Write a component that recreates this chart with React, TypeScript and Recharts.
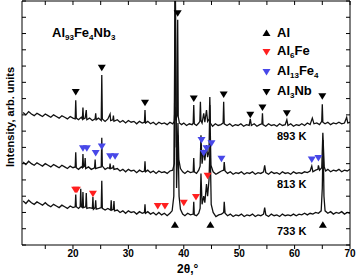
import React from "react";
import { ComposedChart, Line, Scatter, XAxis, YAxis } from "recharts";

// 2θ (deg) / intensity (arb. units) pairs
const TRACE_893: [number, number][] = [
  [11, 163], [11.5, 160], [12, 164], [12.5, 161], [13, 159], [13.5, 162], [14, 160], [14.5, 158],
  [15, 161], [15.5, 159], [16, 157], [16.5, 160], [17, 158], [17.5, 156], [18, 159], [18.5, 157],
  [19, 155], [19.5, 158], [20, 156], [20.4, 155], [20.5, 178], [20.6, 156], [21, 154], [21.5, 157],
  [21.7, 155], [21.8, 169], [21.9, 155], [22.2, 156], [22.4, 166], [22.5, 154], [23, 156], [23.5, 153],
  [24, 155], [24.1, 162], [24.2, 154], [24.6, 156], [25.1, 153], [25.2, 209], [25.3, 155], [25.8, 152],
  [26.3, 155], [26.7, 161], [26.8, 153], [27.2, 154], [27.3, 159], [27.4, 152], [28, 154], [28.5, 151],
  [29, 153], [29.5, 150], [30, 153], [30.5, 151], [31, 152], [31.5, 149], [32, 152], [32.5, 150],
  [32.9, 151], [33.0, 166], [33.1, 150], [33.5, 152], [34, 149], [34.5, 151], [35, 148], [35.5, 151],
  [36, 149], [36.5, 150], [37, 148], [37.5, 151], [38, 149], [38.3, 152], [38.4, 170], [38.55, 153],
  [38.8, 160], [38.9, 277], [39.0, 158], [39.2, 150], [39.6, 148], [40, 150], [40.5, 147], [41, 149],
  [41.5, 148], [41.7, 150], [41.8, 172], [41.9, 149], [42.3, 147], [42.7, 150], [42.9, 152], [43.0, 176],
  [43.1, 153], [43.3, 150], [43.6, 162], [43.8, 151], [44.1, 166], [44.3, 152], [44.6, 155], [44.7, 182],
  [44.8, 150], [45.2, 146], [45.7, 149], [46.2, 147], [46.7, 148], [47.1, 150], [47.2, 176], [47.3, 149],
  [47.8, 147], [48.3, 149], [48.8, 146], [49.3, 148], [49.8, 147], [50.3, 149], [50.8, 146], [51.3, 148],
  [51.8, 147], [52.0, 155], [52.2, 147], [52.7, 149], [53.2, 146], [53.7, 148], [54.1, 149], [54.2, 162],
  [54.3, 148], [54.8, 146], [55.3, 149], [55.8, 147], [56.3, 148], [56.8, 146], [57.3, 149], [57.8, 147],
  [58.3, 148], [58.6, 154], [58.8, 147], [59.3, 149], [59.8, 146], [60.3, 148], [60.8, 147], [61.3, 149],
  [61.8, 147], [62.3, 150], [62.8, 148], [63.2, 156], [63.5, 149], [64, 150], [64.5, 148], [64.9, 152],
  [65.0, 173], [65.1, 151], [65.5, 149], [66, 151], [66.5, 148], [67, 150], [67.5, 149], [68, 151],
  [68.5, 149], [69, 150], [69.4, 157], [69.6, 150], [70, 151],
];

const TRACE_813: [number, number][] = [
  [11, 102], [11.5, 99], [12, 103], [12.5, 100], [13, 98], [13.5, 101], [14, 99], [14.5, 97],
  [15, 100], [15.5, 98], [16, 96], [16.5, 99], [17, 97], [17.5, 95], [18, 98], [18.5, 96],
  [19, 94], [19.5, 97], [20, 95], [20.4, 96], [20.5, 114], [20.6, 95], [21, 93], [21.5, 96],
  [21.7, 95], [21.8, 112], [21.9, 96], [22.1, 97], [22.2, 107], [22.3, 94], [22.8, 96], [23.3, 93],
  [23.9, 95], [24.0, 105], [24.1, 94], [24.6, 95], [25.1, 96], [25.2, 132], [25.3, 97], [25.8, 93],
  [26.3, 95], [26.6, 94], [26.7, 100], [26.8, 94], [27.2, 95], [27.3, 98], [27.4, 93], [28, 94],
  [28.5, 91], [29, 93], [29.5, 90], [30, 93], [30.5, 91], [31, 92], [31.5, 89], [32, 92],
  [32.5, 90], [32.9, 91], [33.0, 103], [33.1, 90], [33.5, 92], [34, 89], [34.5, 91], [35, 88],
  [35.5, 91], [36, 89], [36.5, 90], [37, 88], [37.5, 91], [38, 92], [38.3, 100], [38.45, 340],
  [38.65, 120], [38.85, 125], [38.95, 150], [39.1, 105], [39.4, 94], [39.8, 90], [40.2, 88], [40.7, 91],
  [41.2, 89], [41.7, 90], [41.8, 107], [41.9, 90], [42.3, 88], [42.7, 92], [42.95, 97], [43.1, 135],
  [43.3, 100], [43.6, 117], [43.8, 104], [44.1, 123], [44.3, 108], [44.55, 115], [44.7, 172], [44.9, 98],
  [45.3, 90], [45.8, 87], [46.3, 89], [46.8, 91], [47.2, 92], [47.3, 102], [47.45, 91], [47.9, 88],
  [48.4, 90], [48.9, 87], [49.4, 89], [49.9, 88], [50.4, 90], [50.9, 87], [51.4, 89], [51.9, 88],
  [52.4, 90], [52.9, 87], [53.4, 89], [53.9, 88], [54.4, 90], [54.6, 98], [54.8, 89], [55.3, 87],
  [55.8, 90], [56.3, 88], [56.8, 89], [57.3, 87], [57.8, 90], [58.3, 88], [58.8, 89], [59.3, 87],
  [59.8, 90], [60.3, 88], [60.8, 89], [61.3, 88], [61.8, 90], [62.3, 89], [62.8, 91], [63.1, 97],
  [63.3, 90], [63.8, 92], [64.2, 93], [64.3, 98], [64.5, 92], [64.9, 95], [65.1, 138], [65.35, 96],
  [65.6, 91], [66, 93], [66.5, 90], [67, 92], [67.5, 91], [68, 93], [68.5, 90], [69, 92],
  [69.5, 91], [70, 93],
];

const TRACE_733: [number, number][] = [
  [11, 54], [11.5, 51], [12, 55], [12.5, 52], [13, 50], [13.5, 53], [14, 51], [14.5, 49],
  [15, 52], [15.5, 49], [16, 47], [16.5, 50], [17, 48], [17.5, 46], [18, 49], [18.5, 47],
  [19, 45], [19.5, 48], [20, 46], [20.4, 47], [20.5, 62], [20.6, 47], [21.0, 45], [21.3, 47],
  [21.4, 69], [21.5, 47], [21.7, 46], [21.8, 65], [21.9, 46], [22.3, 47], [22.4, 64], [22.5, 45],
  [23.0, 46], [23.5, 45], [23.6, 59], [23.7, 44], [24.0, 46], [24.1, 55], [24.2, 44], [24.7, 45],
  [25.1, 46], [25.2, 79], [25.3, 45], [25.8, 43], [26.3, 45], [26.8, 43], [26.9, 55], [27.0, 43],
  [27.3, 44], [27.4, 54], [27.5, 42], [28, 43], [28.5, 40], [29, 42], [29.5, 39], [30, 42],
  [30.5, 40], [31, 41], [31.5, 38], [32, 41], [32.5, 39], [32.9, 40], [33.0, 50], [33.1, 39],
  [33.5, 41], [34, 38], [34.5, 40], [35, 37], [35.5, 40], [36, 37], [36.5, 39], [37, 36],
  [37.5, 39], [37.9, 42], [38.2, 60], [38.45, 340], [38.7, 70], [38.95, 135], [39.15, 60], [39.4, 44],
  [39.8, 38], [40.2, 36], [40.7, 39], [41.2, 37], [41.7, 38], [41.8, 53], [41.9, 37], [42.3, 36],
  [42.7, 39], [42.95, 45], [43.1, 88], [43.3, 50], [43.6, 60], [43.8, 52], [44.1, 75], [44.3, 60],
  [44.55, 80], [44.75, 125], [44.95, 50], [45.3, 40], [45.8, 35], [46.3, 37], [46.8, 38], [47.2, 40],
  [47.3, 53], [47.45, 39], [47.9, 36], [48.4, 38], [48.9, 35], [49.4, 37], [49.9, 36], [50.4, 38],
  [50.9, 35], [51.4, 37], [51.9, 36], [52.4, 38], [52.9, 35], [53.4, 37], [53.9, 36], [54.4, 38],
  [54.6, 46], [54.8, 37], [55.3, 35], [55.8, 38], [56.3, 36], [56.8, 37], [57.3, 35], [57.8, 38],
  [58.3, 36], [58.8, 37], [59.3, 36], [59.8, 38], [60.3, 36], [60.8, 38], [61.3, 37], [61.8, 39],
  [62.3, 37], [62.8, 39], [63.3, 38], [63.8, 40], [64.3, 39], [64.8, 42], [65.0, 70], [65.15, 129],
  [65.3, 60], [65.5, 42], [66, 39], [66.5, 41], [67, 38], [67.5, 40], [68, 39], [68.5, 41],
  [69, 38], [69.5, 40], [70, 39],
];

// phase markers
const AL_MARKS: [number, number][] = [[38.4, 25], [44.8, 25], [65.1, 25]];
const AL6FE_MARKS: [number, number][] = [
  [20.4, 68], [20.7, 68], [23.6, 63], [35.3, 48], [36.6, 48], [40.0, 52], [42.2, 59], [44.3, 85],
];
const AL13FE4_MARKS: [number, number][] = [
  [21.8, 119], [22.5, 119], [24.1, 113], [25.2, 121], [26.7, 109], [27.6, 109],
  [43.2, 129], [43.6, 113], [44.1, 119], [45.0, 125], [46.8, 106], [63.1, 105], [64.3, 107],
];
const AL3NB_MARKS: [number, number][] = [
  [20.5, 188], [25.2, 218], [33.0, 175], [38.9, 285], [41.8, 180], [47.2, 185],
  [52.0, 160], [54.2, 169], [58.6, 162], [65.0, 183],
];

const X_TICKS = [15, 20, 25, 30, 35, 40, 45, 50, 55, 60, 65, 70];
const Y_TICKS = [0, 20, 40, 60, 80, 100, 120, 140, 160, 180, 200, 220, 240, 260, 280, 300];
const TEMPS = ["893 K", "813 K", "733 K"];

const FONT = "'Liberation Sans', Arial, sans-serif";
const RED = "#ff1f1f";
const BLUE = "#4848e8";

const pts = (a: [number, number][]) => a.map(([t, i]) => ({ t, i }));

const down = (color: string) => (p: any) =>
  p.cx == null ? <g /> : (
    <polygon
      points={`${p.cx - 4},${p.cy - 3} ${p.cx + 4},${p.cy - 3} ${p.cx},${p.cy + 3.5}`}
      fill={color}
    />
  );

const up = (color: string) => (p: any) =>
  p.cx == null ? <g /> : (
    <polygon
      points={`${p.cx - 4},${p.cy + 3} ${p.cx + 4},${p.cy + 3} ${p.cx},${p.cy - 3.5}`}
      fill={color}
    />
  );

const Sub = ({ children }: { children: React.ReactNode }) => (
  <span style={{ fontSize: 8, position: "relative", top: 3 }}>{children}</span>
);

function Tri({ dir, color }: { dir: "up" | "down"; color: string }) {
  return (
    <svg width={9} height={8} style={{ marginRight: 6 }}>
      {dir === "up" ? (
        <polygon points="0.5,7 8.5,7 4.5,0.5" fill={color} />
      ) : (
        <polygon points="0.5,1 8.5,1 4.5,7.5" fill={color} />
      )}
    </svg>
  );
}

const legendRows = [
  { dir: "up" as const, color: "#000", label: <>Al</> },
  { dir: "down" as const, color: RED, label: <>Al<Sub>6</Sub>Fe</> },
  { dir: "down" as const, color: BLUE, label: <>Al<Sub>13</Sub>Fe<Sub>4</Sub></> },
  { dir: "down" as const, color: "#000", label: <>Al<Sub>3</Sub>Nb</> },
];

export default function App() {
  const tickStyle = { fontSize: 10, fontWeight: 700, fill: "#000", fontFamily: FONT };
  return (
    <div
      style={{
        position: "absolute",
        left: 0,
        top: 0,
        width: 357,
        height: 277,
        background: "#fff",
        fontFamily: FONT,
        fontWeight: 700,
        color: "#000",
      }}
    >
      <ComposedChart width={357} height={277} margin={{ top: 1, right: 7, bottom: 0, left: 22 }}>
        <XAxis
          xAxisId="b"
          dataKey="t"
          type="number"
          domain={[10.8, 70]}
          allowDataOverflow
          ticks={X_TICKS}
          tickFormatter={(v: number) => (v % 10 === 0 ? String(v) : "")}
          height={32}
          stroke="#000"
          tickSize={4}
          tickMargin={1}
          tick={tickStyle}
        />
        <XAxis
          xAxisId="t"
          orientation="top"
          dataKey="t"
          type="number"
          domain={[10.8, 70]}
          allowDataOverflow
          ticks={X_TICKS}
          tickFormatter={() => ""}
          mirror
          stroke="#000"
          tickSize={4}
        />
        <YAxis
          yAxisId="l"
          dataKey="i"
          type="number"
          domain={[0, 300]}
          allowDataOverflow
          ticks={Y_TICKS}
          tickFormatter={() => ""}
          mirror
          stroke="#000"
          tickSize={4}
        />
        <YAxis
          yAxisId="r"
          orientation="right"
          dataKey="i"
          type="number"
          domain={[0, 300]}
          allowDataOverflow
          ticks={Y_TICKS}
          tickFormatter={() => ""}
          mirror
          stroke="#000"
          tickSize={4}
        />
        <Line
          xAxisId="t"
          yAxisId="r"
          data={pts(TRACE_893)}
          dataKey="i"
          stroke="none"
          dot={false}
          isAnimationActive={false}
        />
        {[TRACE_893, TRACE_813, TRACE_733].map((tr, k) => (
          <Line
            key={TEMPS[k]}
            xAxisId="b"
            yAxisId="l"
            data={pts(tr)}
            dataKey="i"
            type="linear"
            stroke="#111"
            strokeWidth={1.3}
            dot={false}
            isAnimationActive={false}
          />
        ))}
        <Scatter xAxisId="b" yAxisId="l" data={pts(AL_MARKS)} shape={up("#000")} isAnimationActive={false} />
        <Scatter xAxisId="b" yAxisId="l" data={pts(AL6FE_MARKS)} shape={down(RED)} isAnimationActive={false} />
        <Scatter xAxisId="b" yAxisId="l" data={pts(AL13FE4_MARKS)} shape={down(BLUE)} isAnimationActive={false} />
        <Scatter xAxisId="b" yAxisId="l" data={pts(AL3NB_MARKS)} shape={down("#000")} isAnimationActive={false} />
      </ComposedChart>

      <div style={{ position: "absolute", left: 52, top: 25, fontSize: 13, whiteSpace: "nowrap" }}>
        Al<Sub>93</Sub>Fe<Sub>4</Sub>Nb<Sub>3</Sub>
      </div>

      <div style={{ position: "absolute", left: 262, top: 24, fontSize: 13, lineHeight: "18px" }}>
        {legendRows.map((r, i) => (
          <div key={i} style={{ display: "flex", alignItems: "center", whiteSpace: "nowrap" }}>
            <Tri dir={r.dir} color={r.color} />
            <span>{r.label}</span>
          </div>
        ))}
      </div>

      {TEMPS.map((t, k) => (
        <div
          key={t}
          style={{ position: "absolute", left: 277, top: [130, 178, 225][k], fontSize: 11, whiteSpace: "nowrap" }}
        >
          {t}
        </div>
      ))}

      <div style={{ position: "absolute", left: 177, top: 262, fontSize: 12 }}>2θ,°</div>

      <div
        style={{
          position: "absolute",
          left: 10,
          top: 117,
          fontSize: 11,
          whiteSpace: "nowrap",
          transform: "translate(-50%, -50%) rotate(-90deg)",
        }}
      >
        Intensity, arb. units
      </div>
    </div>
  );
}
